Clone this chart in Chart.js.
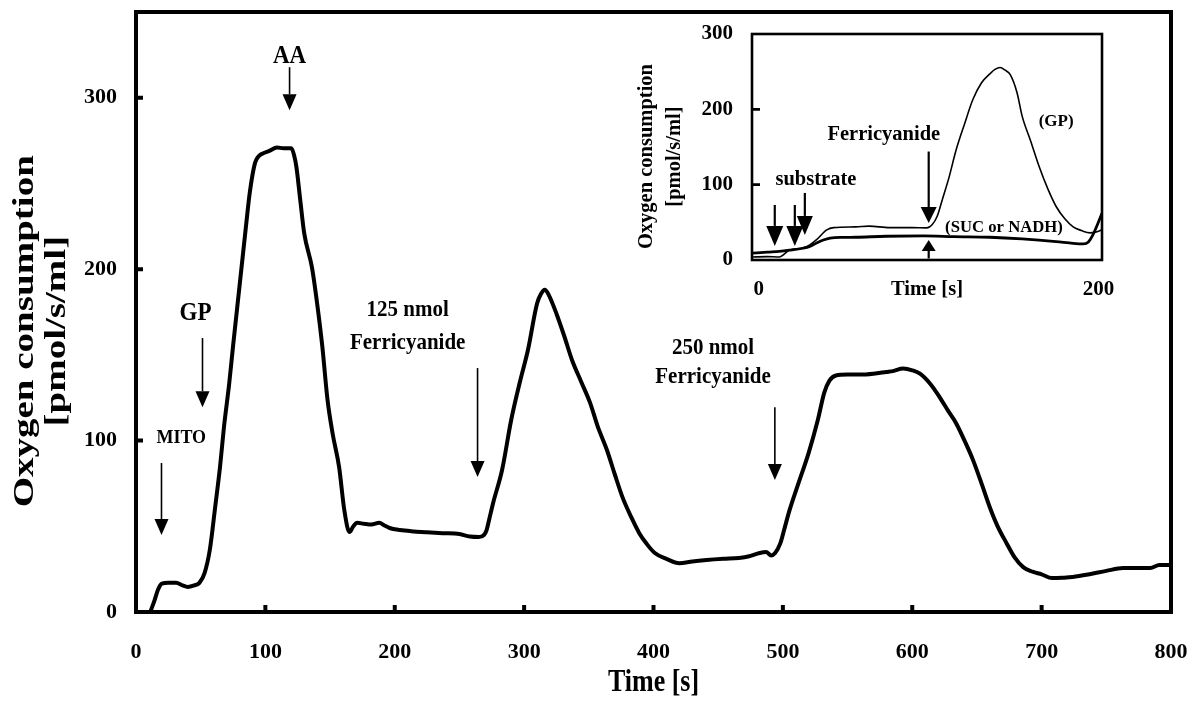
<!DOCTYPE html>
<html>
<head>
<meta charset="utf-8">
<title>Oxygen consumption</title>
<script src="https://cdn.jsdelivr.net/npm/chart.js@4.4.1/dist/chart.umd.min.js"></script>
<style>
  html, body { margin: 0; padding: 0; background: #fff; }
  #wrap { position: relative; width: 1190px; height: 701px; overflow: hidden; }
  #main { position: absolute; left: 0; top: 0; }
  #inset { position: absolute; left: 620px; top: 20px; }
</style>
</head>
<body>
<div id="wrap">
  <canvas id="main" width="1190" height="701"></canvas>
  <canvas id="inset" width="500" height="290"></canvas>
</div>
<script>
// ---------- main trace: oxygen flux after additions ----------
const timeSec = [
  11, 14, 17, 20, 25, 31, 36, 40, 45, 49,
  53, 57, 61, 65, 68, 72, 75, 80, 85, 88,
  92, 95, 98, 103, 109, 114, 120, 122, 124, 127,
  130, 136, 140, 144, 148, 152, 157, 161, 165, 168,
  171, 176, 182, 188, 192, 196, 204, 215, 225, 237,
  250, 258, 265, 269, 271, 273, 276, 283, 290, 297,
  303, 310, 313, 316, 319, 325, 331, 337, 344, 351,
  357, 364, 370, 376, 383, 389, 395, 401, 410, 420,
  430, 441, 454, 466, 474, 482, 487, 491, 494, 498,
  501, 505, 512, 520, 527, 532, 536, 541, 550, 560,
  570, 580, 585, 593, 600, 606, 614, 621, 628, 634,
  641, 647, 654, 660, 666, 673, 679, 686, 693, 700,
  708, 716, 724, 737, 750, 763, 775, 784, 791, 800
];
const o2Flux = [
  0, 6, 13, 16.5, 17, 17, 15.5, 14.6, 15.5, 17,
  22.7, 36, 60, 85, 108, 133, 155, 190, 225, 245,
  262, 266, 267.5, 269, 271, 270.5, 270.5, 267, 259.5, 240,
  221, 201, 180, 155, 124, 104, 84.5, 59.5, 46.6, 50,
  52, 51.5, 51, 52, 50.5, 49, 47.8, 47, 46.5, 46,
  45.5, 44, 43.7, 45, 47.8, 54, 63.5, 83, 112, 135,
  153, 180, 185.5, 188, 185, 174, 161, 147, 134.5, 122,
  108, 94.5, 80.5, 67, 55, 46, 39.5, 34.4, 31, 28.5,
  29.5, 30.3, 31, 31.5, 32.5, 34.4, 35, 33, 34.4, 40,
  48, 59, 75, 93, 112, 128, 135, 138, 138.5, 138.5,
  139, 140, 140.5, 142, 141, 139, 133, 125.5, 117, 110,
  99, 88.6, 74, 61, 50, 40, 32, 26, 23.5, 22,
  19.8, 20, 20.4, 22, 24, 25.6, 25.6, 25.6, 27.4, 27.4
];
const mainXTicks = [0, 100, 200, 300, 400, 500, 600, 700, 800];
const mainYTicks = [0, 100, 200, 300];

// additions marked on the main trace
const mainNoteText = ['MITO', 'GP', 'AA', '125 nmol', 'Ferricyanide', '250 nmol', 'Ferricyanide'];
const mainNoteTime = [35, 46, 118.7, 210, 210, 446, 446];
const mainNoteFlux = [101.5, 174.3, 324, 176, 157, 154, 137];
const mainArrowTime = [19.7, 51.4, 118.7, 264, 493.8];
const mainArrowFrom = [86.9, 159.8, 317.8, 142.3, 119.5];
const mainArrowTo = [44.9, 119.5, 292.7, 78.7, 77];

// ---------- inset: ferricyanide with different substrates ----------
const gpTime = [
  -4, 5, 12, 18, 26, 30, 34, 40, 44, 57,
  65, 77, 90, 99, 102, 105, 108, 112, 116, 121,
  126, 131, 136, 139, 142, 145, 148, 152, 155, 160,
  165, 170, 175, 180, 185, 190, 195, 198, 202
];
const gpFlux = [
  4, 4.5, 4, 13, 16, 20, 27, 40, 43, 44,
  45, 43, 43, 42.7, 46.7, 58, 80, 110, 145, 180,
  213, 235, 247, 253, 255.6, 252, 246, 222, 191, 158,
  124, 95, 71, 55, 44, 39, 36, 37, 40
];
const sucTime = [-4, 5, 12, 18, 26, 30, 34, 38, 42, 50, 57, 75, 97, 115, 136, 155, 175, 185, 191, 194, 197, 202];
const sucFlux = [9, 10.5, 11.5, 13, 15.6, 18, 22.7, 26.5, 29, 30, 30.2, 31.5, 32, 31, 30.2, 28, 24.4, 22, 21.3, 24, 35, 62];
const insetXTicks = [0, 200];
const insetYTicks = [0, 100, 200, 300];

const insetNoteText = ['Ferricyanide', 'substrate', '(GP)', '(SUC or NADH)'];
const insetNoteTime = [73.6, 33.6, 175, 144.3];
const insetNoteFlux = [166.7, 106.7, 184, 42.7];
const insetArrowTime = [9.4, 21.2, 27.1, 100, 100];
const insetArrowFrom = [73, 73, 89, 144, 2];
const insetArrowTo = [18.7, 18.7, 33.3, 49, 26.7];

// ---------- drawing helpers ----------
const SERIF = '"Liberation Serif", "Times New Roman", Times, serif';

function pairs(xs, ys) {
  return xs.map((x, i) => ({ x: x, y: ys[i] }));
}

function drawArrow(ctx, x, yTail, yTip, headW, headH, lineW) {
  const dir = yTip > yTail ? 1 : -1;
  const base = yTip - dir * headH;
  ctx.save();
  ctx.strokeStyle = '#000';
  ctx.fillStyle = '#000';
  ctx.lineWidth = lineW;
  ctx.beginPath();
  ctx.moveTo(x, yTail);
  ctx.lineTo(x, base);
  ctx.stroke();
  ctx.beginPath();
  ctx.moveTo(x - headW / 2, base);
  ctx.lineTo(x + headW / 2, base);
  ctx.lineTo(x, yTip);
  ctx.closePath();
  ctx.fill();
  ctx.restore();
}

function drawText(ctx, text, x, y, size, sx, sy, rot) {
  ctx.save();
  ctx.translate(x, y);
  if (rot) ctx.rotate(rot);
  ctx.scale(sx, sy);
  ctx.font = 'bold ' + size + 'px ' + SERIF;
  ctx.fillStyle = '#000';
  ctx.textAlign = 'center';
  ctx.textBaseline = 'middle';
  ctx.fillText(text, 0, 0);
  ctx.restore();
}

// closed box round the plot area, with short inward tick marks
const framePlugin = {
  id: 'frame',
  beforeDatasetsDraw(chart, _args, o) {
    const { ctx, chartArea: a, scales: { x, y } } = chart;
    ctx.save();
    ctx.strokeStyle = '#000';
    ctx.lineWidth = o.width;
    ctx.strokeRect(a.left, a.top, a.right - a.left, a.bottom - a.top);
    ctx.beginPath();
    if (o.xTicks) {
      x.ticks.forEach(t => {
        if (t.value > x.min && t.value < x.max) {
          const p = x.getPixelForValue(t.value);
          ctx.moveTo(p, a.bottom);
          ctx.lineTo(p, a.bottom - o.tick);
        }
      });
    }
    y.ticks.forEach(t => {
      if (t.value > y.min && t.value < y.max) {
        const p = y.getPixelForValue(t.value);
        ctx.moveTo(a.left, p);
        ctx.lineTo(a.left + o.tick, p);
      }
    });
    ctx.lineWidth = o.tickWidth;
    ctx.stroke();
    ctx.restore();
  }
};

// arrows and labels placed in data units
const notesPlugin = {
  id: 'notes',
  afterDatasetsDraw(chart, _args, o) {
    const { ctx, scales: { x, y } } = chart;
    o.arrowTime.forEach((t, i) => {
      const h = o.heads[i];
      drawArrow(ctx, x.getPixelForValue(t), y.getPixelForValue(o.arrowFrom[i]),
        y.getPixelForValue(o.arrowTo[i]), h[0], h[1], o.arrowWidth);
    });
    o.text.forEach((s, i) => {
      drawText(ctx, s, x.getPixelForValue(o.time[i]), y.getPixelForValue(o.flux[i]),
        o.sizes[i], 1, o.stretch, 0);
    });
  }
};

// axis titles
const titlesPlugin = {
  id: 'titles',
  afterDraw(chart, _args, o) {
    const { ctx, chartArea: a, scales: { y } } = chart;
    const yc = y.getPixelForValue(o.yCenter);
    o.yLines.forEach((s, i) => {
      drawText(ctx, s, o.yLineX[i], yc, o.ySize, o.yStretch, 1, -Math.PI / 2);
    });
    drawText(ctx, o.xText, (a.left + a.right) / 2, o.xTitleY, o.xSize, 1, o.xStretch, 0);
  }
};

function axisFont(size) {
  return { family: SERIF, size: size, weight: 'bold' };
}

// ---------- main chart ----------
new Chart(document.getElementById('main'), {
  type: 'line',
  data: {
    datasets: [{
      data: pairs(timeSec, o2Flux),
      borderColor: '#000',
      borderWidth: 4,
      pointRadius: 0,
      fill: false,
      cubicInterpolationMode: 'monotone',
      borderJoinStyle: 'round',
      borderCapStyle: 'round'
    }]
  },
  options: {
    responsive: false,
    animation: false,
    devicePixelRatio: 1,
    layout: { padding: { top: 12, right: 19, bottom: 0, left: 0 } },
    plugins: {
      legend: { display: false },
      tooltip: { enabled: false },
      frame: { width: 4, tick: 7, tickWidth: 4, xTicks: true },
      notes: {
        text: mainNoteText, time: mainNoteTime, flux: mainNoteFlux,
        sizes: [18, 23, 23, 21, 21, 21, 21], stretch: 1.1,
        arrowTime: mainArrowTime, arrowFrom: mainArrowFrom, arrowTo: mainArrowTo,
        heads: [[14, 16], [14, 16], [14, 16], [14, 16], [14, 16]], arrowWidth: 1.6
      },
      titles: {
        yLines: ['Oxygen consumption', '[pmol/s/ml]'], yLineX: [25, 57], yCenter: 163.8,
        ySize: 30, yStretch: 1.3,
        xText: 'Time [s]', xTitleY: 683, xSize: 26, xStretch: 1.25
      }
    },
    scales: {
      x: {
        type: 'linear', min: 0, max: 800,
        grid: { display: false, drawTicks: false },
        border: { display: false },
        ticks: { font: axisFont(22), color: '#000', padding: 27, maxRotation: 0 },
        afterBuildTicks: s => { s.ticks = mainXTicks.map(v => ({ value: v })); },
        afterFit: s => { s.height = 89; s.paddingLeft = 0; s.paddingRight = 0; }
      },
      y: {
        type: 'linear', min: 0, max: 350,
        grid: { display: false, drawTicks: false },
        border: { display: false },
        ticks: { font: axisFont(22), color: '#000', padding: 19 },
        afterBuildTicks: s => { s.ticks = mainYTicks.map(v => ({ value: v })); },
        afterFit: s => { s.width = 136; s.paddingTop = 0; s.paddingBottom = 0; }
      }
    }
  },
  plugins: [framePlugin, notesPlugin, titlesPlugin]
});

// ---------- inset chart ----------
new Chart(document.getElementById('inset'), {
  type: 'line',
  data: {
    datasets: [{
      label: 'GP',
      data: pairs(gpTime, gpFlux),
      borderColor: '#000',
      borderWidth: 1.6,
      pointRadius: 0,
      fill: false,
      cubicInterpolationMode: 'monotone'
    }, {
      label: 'SUC or NADH',
      data: pairs(sucTime, sucFlux),
      borderColor: '#000',
      borderWidth: 2.8,
      pointRadius: 0,
      fill: false,
      cubicInterpolationMode: 'monotone'
    }]
  },
  options: {
    responsive: false,
    animation: false,
    devicePixelRatio: 1,
    layout: { padding: { top: 14, right: 18, bottom: 0, left: 0 } },
    plugins: {
      legend: { display: false },
      tooltip: { enabled: false },
      frame: { width: 2.6, tick: 8, tickWidth: 2.6, xTicks: false },
      notes: {
        text: insetNoteText, time: insetNoteTime, flux: insetNoteFlux,
        sizes: [20.5, 20.5, 17, 16.7], stretch: 1,
        arrowTime: insetArrowTime, arrowFrom: insetArrowFrom, arrowTo: insetArrowTo,
        heads: [[17, 20], [17, 20], [16, 19], [16, 16], [14, 11]], arrowWidth: 2.2
      },
      titles: {
        yLines: ['Oxygen consumption', '[pmol/s/ml]'], yLineX: [27, 55], yCenter: 137.3,
        ySize: 20.5, yStretch: 1,
        xText: 'Time [s]', xTitleY: 270, xSize: 20.5, xStretch: 1
      }
    },
    scales: {
      x: {
        type: 'linear', min: -4, max: 202,
        grid: { display: false, drawTicks: false },
        border: { display: false },
        ticks: { font: axisFont(21), color: '#000', padding: 17, maxRotation: 0 },
        afterBuildTicks: s => { s.ticks = insetXTicks.map(v => ({ value: v })); },
        afterFit: s => { s.height = 50; s.paddingLeft = 0; s.paddingRight = 0; }
      },
      y: {
        type: 'linear', min: 0, max: 300,
        grid: { display: false, drawTicks: false },
        border: { display: false },
        ticks: { font: axisFont(21), color: '#000', padding: 19 },
        afterBuildTicks: s => { s.ticks = insetYTicks.map(v => ({ value: v })); },
        afterFit: s => { s.width = 132; s.paddingTop = 0; s.paddingBottom = 0; }
      }
    }
  },
  plugins: [framePlugin, notesPlugin, titlesPlugin]
});
</script>
</body>
</html>
